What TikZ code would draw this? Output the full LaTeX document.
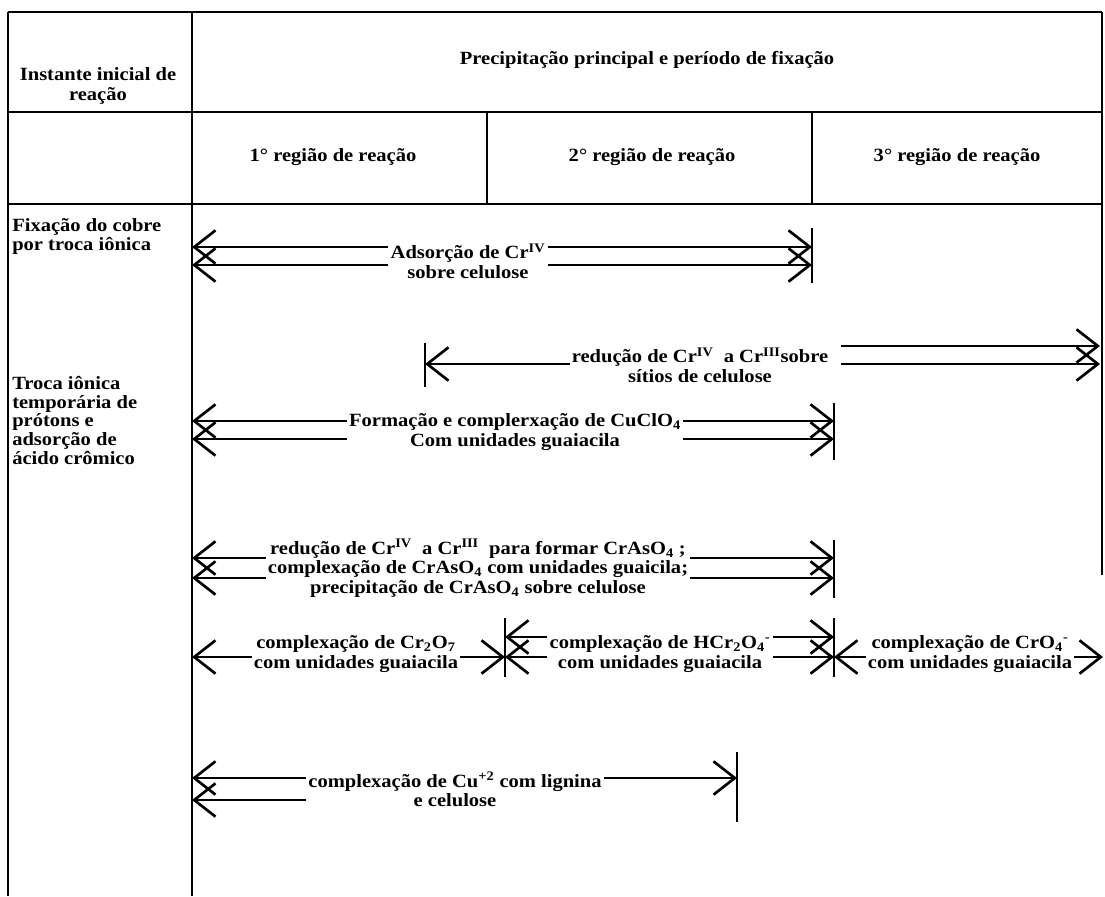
\documentclass[tikz,border=0pt]{standalone}
\usepackage{fontspec}
\setmainfont[FakeStretch=1.1]{Liberation Serif}
\usepackage{tikz}
\usetikzlibrary{positioning,arrows.meta}
\newcommand{\ionTxt}[2]{\textsubscript{#1}\textsuperscript{#2}}
\tikzstyle{cellText}=[font=\bfseries\fontsize{14}{14.5}\selectfont, align=center, inner sep=1.5pt]
\tikzstyle{rowText}=[font=\bfseries\fontsize{14}{14}\selectfont, align=left, anchor=base west, inner sep=0pt]
\tikzstyle{gridLine}=[line width=1.5pt]
\tikzstyle{barLine}=[line width=2pt]
\tikzstyle{lineBarb}=[line width=2pt, -{Straight Barb[length=16pt,width=25pt]}]

\begin{document}
\begin{tikzpicture}[x=0.75pt, y=-0.75pt]
  \useasboundingbox (0,0) rectangle (1105,896);
  % table frame
  \draw[gridLine] (8,12) -- (1102,12);
  \draw[gridLine] (8,112) -- (1102,112);
  \draw[gridLine] (8,204) -- (1102,204);
  \draw[gridLine] (8,12) -- (8,896);
  \draw[gridLine] (192,12) -- (192,896);
  \draw[gridLine] (1102,12) -- (1102,575);
  \draw[gridLine] (487,112) -- (487,204);
  \draw[gridLine] (812,112) -- (812,204);

  % header
  \node[cellText] (inst) at (98,86) {Instante inicial de\\reação};
  \node[cellText] (prec) at (647,60) {Precipitação principal e período de fixação};
  \node[cellText] (reg1) at (333,157) {1° região de reação};
  \node[cellText] (reg2) at (652,157) {2° região de reação};
  \node[cellText] (reg3) at (957,157) {3° região de reação};

  % first column
  \node[rowText] (fix) at (12,250) {Fixação do cobre\\por troca iônica};
  \node[rowText] (troca) at (12,464) {Troca iônica\\temporária de\\prótons e\\adsorção de\\ácido crômico};

  % adsorcao
  \node[cellText] (ads) at (468,261) {Adsorção de Cr\textsuperscript{IV}\\sobre celulose};
  \coordinate (adsLa) at (192,247);
  \coordinate (adsLb) at (192,265);
  \coordinate (adsRa) at (812,247);
  \coordinate (adsRb) at (812,265);
  \coordinate (adsBt) at (812,228);
  \coordinate (adsBb) at (812,283);
  \draw[lineBarb] (ads.west |- adsLa) -- (adsLa);
  \draw[lineBarb] (ads.west |- adsLb) -- (adsLb);
  \draw[lineBarb] (ads.east |- adsRa) -- (adsRa);
  \draw[lineBarb] (ads.east |- adsRb) -- (adsRb);
  \draw[barLine] (adsBt) -- (adsBb);

  % reducao sobre sitios
  \node[cellText] (red) at (700,365) {redução de Cr\textsuperscript{IV}\ \ a Cr\textsuperscript{III}sobre\\sítios de celulose};
  \coordinate (redL) at (425,364);
  \coordinate (redRa) at (1100,346);
  \coordinate (redRb) at (1100,364);
  \coordinate (redBt) at (425,343);
  \coordinate (redBb) at (425,387);
  \draw[lineBarb] (red.west |- redL) -- (redL);
  \draw[lineBarb] ([xshift=8pt]red.east |- redRa) -- (redRa);
  \draw[lineBarb] ([xshift=8pt]red.east |- redRb) -- (redRb);
  \draw[barLine] (redBt) -- (redBb);

  % CuClO4
  \node[cellText] (form) at (515,432) {Formação e complerxação de CuClO\textsubscript{4}\\Com unidades guaiacila};
  \coordinate (formLa) at (192,421);
  \coordinate (formLb) at (192,439);
  \coordinate (formRa) at (834,421);
  \coordinate (formRb) at (834,439);
  \coordinate (formBt) at (834,403);
  \coordinate (formBb) at (834,460);
  \draw[lineBarb] (form.west |- formLa) -- (formLa);
  \draw[lineBarb] (form.west |- formLb) -- (formLb);
  \draw[lineBarb] (form.east |- formRa) -- (formRa);
  \draw[lineBarb] (form.east |- formRb) -- (formRb);
  \draw[barLine] (formBt) -- (formBb);

  % CrAsO4
  \node[cellText] (cras) at (478,568) {redução de Cr\textsuperscript{IV}\ \ a Cr\textsuperscript{III}\ \ para formar CrAsO\textsubscript{4} ;\\complexação de CrAsO\textsubscript{4} com unidades guaicila;\\precipitação de CrAsO\textsubscript{4} sobre celulose};
  \coordinate (crasLa) at (192,558);
  \coordinate (crasLb) at (192,578);
  \coordinate (crasRa) at (834,558);
  \coordinate (crasRb) at (834,578);
  \coordinate (crasBt) at (834,540);
  \coordinate (crasBb) at (834,598);
  \draw[lineBarb] (cras.west |- crasLa) -- (crasLa);
  \draw[lineBarb] (cras.west |- crasLb) -- (crasLb);
  \draw[lineBarb] (cras.east |- crasRa) -- (crasRa);
  \draw[lineBarb] (cras.east |- crasRb) -- (crasRb);
  \draw[barLine] (crasBt) -- (crasBb);

  % complexacao: three regions
  \node[cellText] (cx1) at (356,654) {complexação de Cr\textsubscript{2}O\textsubscript{7}\\com unidades guaiacila};
  \node[cellText] (cx2) at (660,654) {complexação de HCr\textsubscript{2}O\ionTxt{4}{-}\\com unidades guaiacila};
  \node[cellText] (cx3) at (970,654) {complexação de CrO\ionTxt{4}{-}\\com unidades guaiacila};
  \coordinate (cxL) at (192,657);
  \coordinate (cxMa) at (505,637);
  \coordinate (cxMb) at (505,657);
  \coordinate (cxNa) at (834,637);
  \coordinate (cxNb) at (834,657);
  \coordinate (cxR) at (1103,657);
  \coordinate (cxMt) at (505,618);
  \coordinate (cxMd) at (505,677);
  \coordinate (cxNt) at (834,618);
  \coordinate (cxNd) at (834,677);
  \draw[lineBarb] (cx1.west |- cxL) -- (cxL);
  \draw[lineBarb] (cx1.east |- cxMb) -- (cxMb);
  \draw[lineBarb] (cx2.west |- cxMa) -- (cxMa);
  \draw[lineBarb] (cx2.west |- cxMb) -- (cxMb);
  \draw[lineBarb] (cx2.east |- cxNa) -- (cxNa);
  \draw[lineBarb] (cx2.east |- cxNb) -- (cxNb);
  \draw[lineBarb] (cx3.west |- cxNb) -- (cxNb);
  \draw[lineBarb] (cx3.east |- cxR) -- (cxR);
  \draw[barLine] (cxMt) -- (cxMd);
  \draw[barLine] (cxNt) -- (cxNd);

  % Cu+2
  \node[cellText] (cu) at (455,789) {complexação de Cu\textsuperscript{+2} com lignina\\e celulose};
  \coordinate (cuLa) at (192,778);
  \coordinate (cuLb) at (192,800);
  \coordinate (cuR) at (737,778);
  \coordinate (cuBt) at (737,752);
  \coordinate (cuBb) at (737,822);
  \draw[lineBarb] (cu.west |- cuLa) -- (cuLa);
  \draw[lineBarb] (cu.west |- cuLb) -- (cuLb);
  \draw[lineBarb] (cu.east |- cuR) -- (cuR);
  \draw[barLine] (cuBt) -- (cuBb);
\end{tikzpicture}
\end{document}
